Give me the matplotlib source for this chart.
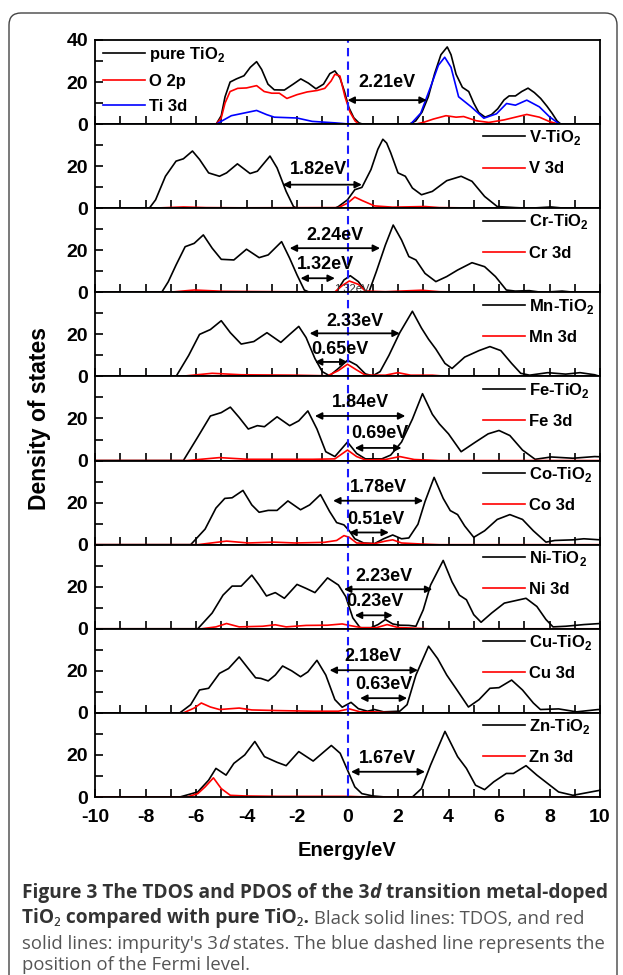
import numpy as np
import matplotlib
matplotlib.use('Agg')
import matplotlib.pyplot as plt
from matplotlib.ticker import MultipleLocator
from matplotlib.text import Annotation
from matplotlib.patches import FancyBboxPatch

plt.rcParams['font.family'] = ['Liberation Sans', 'DejaVu Sans']
plt.rcParams['font.weight'] = 'bold'
plt.rcParams['axes.unicode_minus'] = False
plt.rcParams['mathtext.fontset'] = 'custom'
plt.rcParams['mathtext.rm'] = 'Liberation Sans:bold'
plt.rcParams['mathtext.bf'] = 'Liberation Sans:bold'

# ---- data: (energy eV, DOS) ----
pure_e = [-10, -5.2, -5.0, -4.85, -4.65, -4.4, -4.1, -3.85, -3.6, -3.4, -3.15, -2.9, -2.5, -2.15, -1.85, -1.55,
          -1.25, -0.95, -0.7, -0.5, -0.3, -0.12, 0.05, 0.25, 0.45, 0.6, 2.45, 2.7, 2.95, 3.2, 3.45, 3.7, 3.95, 4.1,
          4.3, 4.55, 4.8, 5.0, 5.2, 5.45, 5.7, 5.95, 6.2, 6.4, 6.65, 6.9, 7.15, 7.4, 7.65, 7.9, 8.1, 8.3, 8.45, 10]
pure_dos = [0, 0, 4, 13, 20, 21.5, 23, 27, 29.7, 26, 19, 16.3, 16.2, 19, 21.5, 19.5,
            16.8, 19, 24, 25.3, 22, 15.5, 8, 3, 0.6, 0, 0, 1.5, 5.7, 13, 24, 33, 36.7, 33,
            23.7, 17.5, 15.5, 10, 5.5, 3.3, 4.5, 7.3, 11.5, 13.4, 13.4, 15.5, 17.1, 15, 12.2, 8.5, 5.2, 1.5, 0, 0]
o2p_e = [-10, -5.2, -5.0, -4.85, -4.65, -4.35, -4.0, -3.6, -3.3, -3.0, -2.7, -2.4, -2.0, -1.6, -1.2, -0.9, -0.65,
         -0.5, -0.3, -0.1, 0.1, 0.3, 0.45, 2.7, 3.0, 3.4, 3.9, 4.3, 4.6, 5.1, 5.6, 6.2, 7.1, 7.6, 8.0, 8.36, 10]
o2p_dos = [0, 0, 3, 10, 15.5, 17, 17.2, 18.3, 15.5, 14.7, 14.7, 12.2, 14, 15.3, 16, 17, 20.5,
           23.7, 22.9, 13, 5.7, 1.5, 0, 0, 0.8, 2.4, 4, 3.3, 3.6, 1.6, 0.8, 2, 4.6, 3.3, 1.2, 0, 0]
ti3d_e = [-10, -5.2, -4.9, -4.6, -4.2, -3.6, -3.2, -2.9, -2.0, -1.4, -0.5, 0.1, 2.5, 2.9, 3.3, 3.6, 3.85, 4.1,
          4.4, 4.9, 5.4, 5.9, 6.3, 6.65, 7.1, 7.6, 8.0, 8.36, 8.5, 10]
ti3d_dos = [0, 0, 2, 4, 5, 6.5, 4.5, 3.3, 2.9, 1.3, 0.6, 0, 0, 5.2, 18, 28, 31.8, 27,
            13, 8.2, 2.8, 4.9, 9.8, 9, 11.4, 8.2, 3.5, 0.3, 0, 0]

v_e = [-10, -7.85, -7.6, -7.21, -6.79, -6.5, -6.14, -5.86, -5.5, -5.07, -4.79, -4.36, -3.86, -3.57, -3.3, -3.07,
       -2.79, -2.43, -2.14, -2.0, -0.5, -0.36, 0, 0.29, 0.57, 0.93, 1.2, 1.4, 1.55, 1.71, 2.0, 2.29, 2.57, 2.93,
       3.36, 3.93, 4.5, 4.93, 5.43, 5.93, 6.64, 7.2, 8.07, 8.6, 10]
v_dos = [0, 0, 4, 15.2, 22.4, 23.5, 27.2, 23.2, 16.8, 15.2, 16.8, 21.1, 16.5, 17.6, 21.5, 24.8,
         19.2, 8, 0.8, 0, 0, 0.8, 4, 8.8, 9.9, 18.4, 28, 32.8, 31, 26.4, 16.8, 15.2, 9.6, 6.4,
         8, 13.1, 15.2, 12.8, 5.6, 0.8, 0.3, 0, 0.6, 0, 0]
v3d_e = [-10, -7.8, -6.5, -5.6, -4.2, -0.36, 0, 0.29, 0.57, 1.07, 1.79, 3.07, 3.64, 5.8, 10]
v3d_dos = [0, 0, 0.6, 0.3, 0.2, 0.3, 2.4, 5.3, 3.7, 1.1, 0.5, 0.8, 0.3, 0, 0]

cr_e = [-10, -7.36, -7.1, -6.79, -6.43, -6.07, -5.71, -5.36, -5.0, -4.5, -4.0, -3.5, -3.14, -2.61, -2.29, -2.0,
        -1.71, -1.5, -0.45, -0.14, 0.11, 0.43, 0.71, 0.85, 1.14, 1.5, 1.81, 2.14, 2.43, 2.71, 3.07, 3.5, 3.93,
        4.36, 4.93, 5.43, 5.86, 6.29, 6.64, 7.2, 7.7, 8.5, 9.0, 10]
cr_dos = [0, 0, 5, 13, 21.7, 23.3, 27.3, 21, 15.7, 15.4, 20.5, 16.5, 17.8, 24.1, 16.2, 8.3,
          1.1, 0, 0, 5.9, 7.9, 5.1, 0.6, 0.2, 9.8, 22.5, 32, 24.9, 17, 15.4, 9, 5.1, 7.5,
          10.6, 14.1, 12.2, 7.5, 1.1, 0.6, 0.8, 0, 0.6, 0, 0]
cr3d_e = [-10, -7.1, -6.07, -4.93, -2.79, -0.5, -0.21, 0.07, 0.43, 0.71, 1.5, 2.93, 3.64, 5.8, 10]
cr3d_dos = [0, 0, 1.1, 0.5, 0.3, 0.2, 3.2, 5.4, 3.8, 0.6, 0.3, 1, 0.3, 0, 0]

mn_e = [-10, -6.79, -6.29, -5.86, -5.43, -5.0, -4.64, -4.21, -3.71, -3.19, -2.64, -2.29, -1.93, -1.64, -1.29, -1.0,
        -0.71, -0.36, 0, 0.36, 0.71, 1.0, 1.29, 1.64, 2.07, 2.57, 2.93, 3.21, 3.5, 3.86, 4.14, 4.64, 5.21, 5.64,
        6.07, 6.5, 6.86, 7.21, 7.93, 8.64, 9.21, 9.79, 10]
mn_dos = [0, 0, 10, 20, 22.3, 26.5, 20.8, 15.4, 16.6, 20.8, 16.2, 20, 23.8, 18.5, 8.5, 2.3,
          0.3, 3.8, 7.7, 5.4, 1.2, 0.3, 2.3, 10, 20.8, 31, 23, 17.7, 13, 6.2, 3.8, 9.2, 12.3, 14.2,
          12.3, 6.2, 1.5, 0.6, 1.8, 1.1, 1.8, 0.8, 0]
mn3d_e = [-10, -6.64, -5.36, -4.21, -2.07, -0.79, -0.36, 0, 0.36, 0.71, 1.5, 2.0, 2.5, 3.36, 4.0, 10]
mn3d_dos = [0, 0, 1.5, 0.8, 0.6, 0.3, 2.8, 5.8, 3.1, 0.6, 0.6, 1.8, 0.6, 0.6, 0, 0]

fe_e = [-10, -6.5, -5.93, -5.43, -5.0, -4.64, -4.29, -3.93, -3.57, -3.29, -2.79, -2.29, -1.93, -1.57, -1.21, -0.86,
        -0.5, 0, 0.36, 0.71, 1.36, 1.71, 2.14, 2.57, 2.97, 3.36, 3.64, 4.0, 4.5, 5.07, 5.57, 6.0, 6.43, 6.93,
        7.43, 8.07, 8.93, 9.79, 10]
fe_dos = [0, 0, 11.2, 21.2, 22.8, 25.4, 20.5, 15, 16.6, 16.1, 20.8, 16.6, 18.9, 23.6, 15, 4.2,
          1.9, 8.8, 3.4, 0.8, 0.8, 2.6, 8.8, 19.7, 31.8, 22, 17.4, 12.7, 4.2, 8.8, 12.7, 14.3, 11.9, 5,
          0.6, 1.7, 1.1, 1.9, 1.8]
fe3d_e = [-10, -6.36, -5.07, -3.93, -1.36, -0.5, 0, 0.36, 0.71, 1.5, 2.07, 2.64, 3.64, 10]
fe3d_dos = [0, 0, 1.4, 0.6, 0.6, 0.8, 5, 1.9, 0.3, 0.5, 1.9, 0.5, 0, 0]

co_e = [-10, -6.21, -5.64, -5.21, -4.86, -4.57, -4.14, -3.79, -3.5, -3.14, -2.79, -2.36, -1.86, -1.5, -1.07, -0.71,
        -0.43, -0.14, 0.07, 0.29, 0.64, 1.07, 1.43, 1.79, 2.14, 2.43, 2.79, 3.07, 3.43, 3.79, 4.07, 4.36, 4.64,
        5.0, 5.43, 5.93, 6.43, 6.93, 7.36, 7.86, 8.21, 8.93, 9.36, 10]
co_dos = [0, 0, 7.4, 17.4, 22, 22.3, 25.8, 18.9, 15.4, 16.3, 16.3, 20.8, 16.6, 18.9, 23.8, 15.8,
          10.5, 9.4, 6.6, 2.8, 0.8, 0.5, 2.8, 4.6, 2.8, 3.2, 9.7, 20.5, 32, 22, 16.2, 14.3, 8.9,
          3.5, 6.6, 12, 14.3, 12, 6.6, 1.2, 2, 2.3, 2.8, 2.3]
co3d_e = [-10, -5.93, -4.79, -3.93, -2.93, -2.07, -0.93, -0.43, -0.14, 0.07, 0.36, 1.07, 1.5, 1.79, 2.14, 2.93, 3.64, 10]
co3d_dos = [0, 0, 1.7, 0.8, 1.2, 0.8, 1.1, 2, 4.3, 3.5, 0.8, 0.5, 1.7, 2.3, 0.8, 0.3, 0, 0]

ni_e = [-10, -5.93, -5.36, -4.93, -4.57, -4.21, -3.79, -3.5, -3.21, -2.86, -2.5, -2.0, -1.64, -1.29, -0.79, -0.36,
        -0.07, 0.21, 0.5, 0.93, 1.21, 1.5, 1.79, 2.07, 2.43, 2.71, 3.0, 3.29, 3.79, 4.14, 4.43, 4.71, 5.0, 5.29,
        5.71, 6.21, 7.07, 7.5, 7.86, 8.14, 8.64, 9.36, 10]
ni_dos = [0, 0, 7.5, 16, 20.3, 20.3, 25.5, 20.8, 15.6, 17.2, 14.5, 21.1, 19.2, 17.2, 24.2, 20.8,
          15.3, 5.2, 0.5, 0.5, 2, 4.4, 2.3, 1.7, 1.6, 1.2, 9, 20.8, 32.5, 22.3, 16, 13.8, 6.7, 3.1,
          7.5, 12.2, 14.5, 10.6, 4.4, 0.9, 1.2, 2, 2.5]
ni3d_e = [-10, -5.79, -5.21, -4.79, -4.29, -3.36, -2.86, -2.43, -1.64, -0.79, -0.21, 0.07, 0.57, 1.14, 1.57, 2.0,
          2.64, 3.21, 10]
ni3d_dos = [0, 0, 0.9, 2.5, 0.9, 1.2, 1.9, 0.9, 1.6, 1.7, 2.3, 1.6, 0.5, 0.5, 2, 0.6, 0.3, 0, 0]

cu_e = [-10, -6.64, -6.21, -5.86, -5.5, -5.07, -4.71, -4.29, -3.93, -3.64, -3.43, -3.14, -2.86, -2.57, -2.21, -1.86,
        -1.57, -1.21, -0.86, -0.5, -0.21, 0.14, 0.43, 0.79, 1.07, 1.43, 2.07, 2.36, 2.71, 3.21, 3.57, 3.93, 4.29,
        4.79, 5.21, 5.64, 6.0, 6.5, 6.93, 7.36, 7.64, 8.36, 9.07, 9.93, 10]
cu_dos = [0, 0, 3.9, 10.9, 11.7, 18.8, 21.1, 26.6, 21.1, 16.7, 16.4, 15.2, 18, 22.3, 20, 17.2,
          19.5, 25, 18, 6.3, 2.7, 5, 2, 0.8, 1.6, 0.5, 0.8, 3.9, 18, 31.7, 25.8, 18, 11.7,
          2.8, 6.3, 11.7, 12, 15.6, 10.9, 4.7, 1.6, 1.9, 0.5, 1.6, 1.5]
cu3d_e = [-10, -6.5, -6.07, -5.79, -5.43, -5.07, -4.29, -3.79, -2.79, -1.36, -0.36, 0.07, 0.5, 1.07, 1.5, 2.2, 10]
cu3d_dos = [0, 0, 2.3, 4.7, 2.8, 1.6, 2.3, 1.4, 1.1, 0.8, 0.8, 1.9, 0.5, 0.5, 0.2, 0, 0]

zn_e = [-10, -6.64, -5.93, -5.5, -5.21, -4.81, -4.5, -4.07, -3.67, -3.29, -2.79, -2.43, -1.93, -1.36, -0.64, -0.29,
        0, 0.29, 0.57, 1.0, 1.5, 2.57, 2.93, 3.29, 3.86, 4.36, 4.71, 5.07, 5.43, 5.79, 6.29, 6.57, 7.07, 7.5,
        7.93, 8.36, 8.93, 9.64, 10]
zn_dos = [0, 0, 2.4, 8, 13.6, 10.4, 16, 20, 26.4, 19.2, 16.5, 14.9, 21.6, 17.1, 24.5, 20.8,
          12.8, 4.8, 1.6, 0.5, 0, 0, 4, 15.2, 31.2, 19.2, 13.6, 5.6, 3.5, 7.2, 11.2, 11.2, 14.9, 10.4,
          6.4, 2.4, 0.8, 2.4, 3.2]
zn3d_e = [-10, -6.36, -5.93, -5.64, -5.31, -5.0, -4.64, -4.07, -2.79, 0.07, 0.79, 10]
zn3d_dos = [0, 0, 1.6, 4.8, 9.1, 4, 0.8, 0.5, 0.3, 0.3, 0, 0]

dopants = ['V', 'Cr', 'Mn', 'Fe', 'Co', 'Ni', 'Cu', 'Zn']
tdos_e = [v_e, cr_e, mn_e, fe_e, co_e, ni_e, cu_e, zn_e]
tdos = [v_dos, cr_dos, mn_dos, fe_dos, co_dos, ni_dos, cu_dos, zn_dos]
pdos_e = [v3d_e, cr3d_e, mn3d_e, fe3d_e, co3d_e, ni3d_e, cu3d_e, zn3d_e]
pdos = [v3d_dos, cr3d_dos, mn3d_dos, fe3d_dos, co3d_dos, ni3d_dos, cu3d_dos, zn3d_dos]

# gap marks per panel: (E start, E end, DOS level, label, label E, label DOS)
gaps = [
    [(0, 3.14, 11.4, '2.21eV', 1.57, 19.6)],
    [(-2.57, 0.57, 11.2, '1.82eV', -1.14, 18.4)],
    [(-2.29, 1.29, 21, '2.24eV', -0.5, 27), (-1.86, -0.5, 6.7, '1.32eV', -0.86, 13)],
    [(-1.5, 2.07, 20.5, '2.33eV', 0.29, 26), (-1.29, 0, 6.9, '0.65eV', -0.29, 13)],
    [(-1.29, 2.29, 21.2, '1.84eV', 0.5, 27.7), (0.29, 2.14, 6, '0.69eV', 1.29, 12.7)],
    [(-0.57, 3.0, 20.9, '1.78eV', 1.21, 27.4), (0.07, 1.64, 5.8, '0.51eV', 1.14, 12)],
    [(-0.14, 3.36, 18.8, '2.23eV', 1.43, 24.7), (0.29, 1.79, 6.4, '0.23eV', 1.07, 13)],
    [(-0.71, 2.79, 20.3, '2.18eV', 1.0, 26.6), (0.5, 2.36, 7, '0.63eV', 1.43, 13.3)],
    [(0.14, 3.07, 12, '1.67eV', 1.57, 18.4)],
]

W, H = 623, 975
fig, axes = plt.subplots(9, 1, sharex=True, figsize=(W / 100, H / 100), dpi=100,
                         gridspec_kw=dict(hspace=0))
fig.subplots_adjust(left=95 / W, right=600 / W, top=1 - 40 / H, bottom=1 - 797 / H)

lw = 1.2
for i, ax in enumerate(axes):
    if i == 0:
        ax.plot(pure_e, pure_dos, color='black', lw=lw, label='pure TiO$_\\mathbf{2}$')
        ax.plot(o2p_e, o2p_dos, color='red', lw=lw, label='O 2p')
        ax.plot(ti3d_e, ti3d_dos, color='blue', lw=lw, label='Ti 3d')
        ax.legend(loc='upper left', bbox_to_anchor=(0.006, 1.0), frameon=False, fontsize=12,
                  handlelength=2.5, handletextpad=0.25, borderpad=0.3, borderaxespad=0, labelspacing=0.6)
        ax.set_yticks([0, 20, 40])
    else:
        d = dopants[i - 1]
        ax.plot(tdos_e[i - 1], tdos[i - 1], color='black', lw=lw, label=d + '-TiO$_\\mathbf{2}$')
        ax.plot(pdos_e[i - 1], pdos[i - 1], color='red', lw=lw, label=d + ' 3d')
        ax.legend(loc='upper left', bbox_to_anchor=(0.76, 1.0), frameon=False, fontsize=12,
                  handlelength=2.5, handletextpad=0.25, borderpad=0.25, borderaxespad=0, labelspacing=0.85)
        ax.set_yticks([0, 20])
    ax.axvline(0, color='#1a1aff', lw=1.5, dashes=(4, 2.5))
    for x0, x1, y, lab, tx, ty in gaps[i]:
        ax.annotate('', xy=(x1, y), xytext=(x0, y),
                    arrowprops=dict(arrowstyle='<|-|>', color='black', lw=1.3, shrinkA=0, shrinkB=0,
                                    mutation_scale=10))
        ax.text(tx, ty, lab, ha='center', va='center', fontsize=13, fontweight='bold')
    if i == 2:
        ax.text(0.18, 1.6, '1.32eV', ha='center', va='center', fontsize=8, fontweight='normal', color='#333333')
    ax.set_ylim(0, 40)
    ax.set_xlim(-10, 10)
    ax.yaxis.set_minor_locator(MultipleLocator(10))
    ax.xaxis.set_major_locator(MultipleLocator(2))
    ax.xaxis.set_minor_locator(MultipleLocator(1))
    ax.tick_params(which='both', direction='in', top=False, right=False, labelsize=14, width=1.2)
    ax.tick_params(which='major', length=6, pad=5)
    ax.tick_params(which='minor', length=6)
    for s in ax.spines.values():
        s.set_linewidth(1.3)

axes[-1].set_xticks(np.arange(-10, 11, 2))
axes[-1].tick_params(axis='x', pad=9)

fig.text(40 / W, 1 - 418 / H, 'Density of states', rotation=90, ha='center', va='center', fontsize=16.5,
         fontweight='bold')
fig.text(347 / W, 1 - 851 / H, 'Energy/eV', ha='center', va='center', fontsize=14.5, fontweight='bold')

# outer rounded frame
frame = FancyBboxPatch((9, -20), 608, H - 13 + 20, boxstyle='round,pad=0,rounding_size=12',
                       transform=None, fill=False, edgecolor='#444444', lw=1.0)
fig.patches.append(frame)

# caption
cap_font = ['Open Sans', 'Noto Sans', 'DejaVu Sans']
styles = {
    'b': dict(fontweight='bold', style='normal', color='#333333', fontsize=13.8),
    'bi': dict(fontweight='bold', style='italic', color='#333333', fontsize=13.8),
    'r': dict(fontweight='normal', style='normal', color='#555555', fontsize=13.3),
    'i': dict(fontweight='normal', style='italic', color='#555555', fontsize=13.3),
}


def caption_line(ypix, pieces):
    first, kind, _ = pieces[0]
    prev = fig.text(22 / W, 1 - ypix / H, first, ha='left', va='bottom', family=cap_font, **styles[kind])
    for txt, kind, gap in pieces[1:]:
        a = Annotation(txt, xy=(1, 0), xycoords=prev, xytext=(gap, 0), textcoords='offset points',
                       ha='left', va='bottom', family=cap_font, **styles[kind])
        fig.add_artist(a)
        prev = a


sp = 3.5
caption_line(903, [('Figure 3 The TDOS and PDOS of the 3', 'b', 0), ('d', 'bi', 0),
                   ('transition metal-doped', 'b', sp)])
caption_line(928, [('TiO\u2082 compared with pure TiO\u2082.', 'b', 0),
                   ('Black solid lines: TDOS, and red', 'r', sp)])
caption_line(953, [("solid lines: impurity's 3", 'r', 0), ('d', 'i', 0),
                   ('states. The blue dashed line represents the', 'r', sp)])
caption_line(974, [('position of the Fermi level.', 'r', 0)])

fig.savefig('out.png', dpi=100)
